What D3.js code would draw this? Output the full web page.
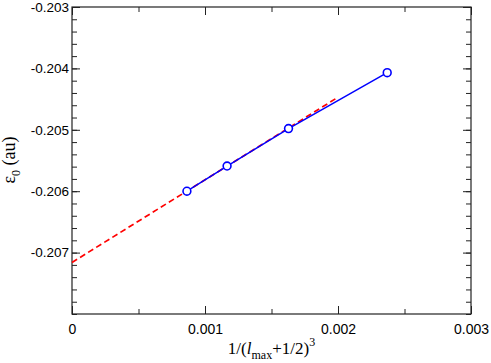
<!DOCTYPE html>
<html>
<head>
<meta charset="utf-8">
<script src="https://cdn.jsdelivr.net/npm/d3@7"></script>
<style>
  body { margin: 0; background: #fff; }
  svg text { fill: #000; }
</style>
</head>
<body>
<div id="chart"></div>
<script>
// data
var lmax = [10, 9, 8, 7];
var xVals = [0.000864, 0.001166, 0.001628, 0.00237];
var eps = [-0.20600, -0.20559, -0.20498, -0.20407];
// linear fit (red dashed)
var fitX = [0, 0.002];
var fitY = [-0.20716, -0.20447];

var xTicks = [0, 0.001, 0.002, 0.003];
var xTickLabels = ["0", "0.001", "0.002", "0.003"];
var yTicks = [-0.203, -0.204, -0.205, -0.206, -0.207];
var yTickLabels = ["-0.203", "-0.204", "-0.205", "-0.206", "-0.207"];

var W = 491, H = 363;
var margin = {top: 7, right: 20, bottom: 49, left: 72},
    width = W - margin.left - margin.right,
    height = H - margin.top - margin.bottom;

var svg = d3.select("#chart").append("svg")
    .attr("width", W)
    .attr("height", H);

var g = svg.append("g")
    .attr("transform", "translate(" + margin.left + "," + margin.top + ")");

var x = d3.scaleLinear().domain([0, 0.003]).range([0, width]);
var y = d3.scaleLinear().domain([-0.208, -0.203]).range([height, 0]);

var axisColor = "#222";
var font = "'Liberation Sans', Arial, Helvetica, sans-serif";

// minor ticks
var xMinor = d3.range(0, 0.0030001, 0.0005);
var yMinor = d3.range(0, 26).map(function(i) { return -0.208 + i * 0.0002; });

function drawAxis(axis, major, minor, t) {
    var a = g.append("g").attr("transform", t).call(axis.tickValues(minor).tickSize(-5).tickFormat(""));
    a.select(".domain").remove();
    a.selectAll("line").attr("stroke", axisColor);
    var b = g.append("g").attr("transform", t).call(axis.tickValues(major).tickSize(-8));
    b.select(".domain").remove();
    b.selectAll("line").attr("stroke", axisColor);
    return b;
}

var bx = drawAxis(d3.axisBottom(x), xTicks, xMinor, "translate(0," + height + ")");
bx.selectAll("text")
    .text(function(d, i) { return xTickLabels[i]; })
    .attr("y", 10).attr("dy", "0.71em")
    .style("font-family", font).style("font-size", "14px");

var tx = drawAxis(d3.axisTop(x), xTicks, xMinor, "translate(0,0)");
tx.selectAll("text").remove();

var ly = drawAxis(d3.axisLeft(y), yTicks, yMinor, "translate(0,0)");
ly.selectAll("text")
    .text(function(d, i) { return yTickLabels[i]; })
    .attr("x", -3)
    .style("font-family", font).style("font-size", "13.5px");

var ry = drawAxis(d3.axisRight(y), yTicks, yMinor, "translate(" + width + ",0)");
ry.selectAll("text").remove();

// frame
g.append("rect")
    .attr("width", width).attr("height", height)
    .attr("fill", "none").attr("stroke", axisColor).attr("stroke-width", 1.2);

// fit line
var fitPts = fitX.map(function(d, i) { return [d, fitY[i]]; });
g.append("path")
    .datum(fitPts)
    .attr("d", d3.line().x(function(d) { return x(d[0]); }).y(function(d) { return y(d[1]); }))
    .attr("fill", "none").attr("stroke", "#ff0000")
    .attr("stroke-width", 1.7).attr("stroke-dasharray", "6,3.5");

// data line
var pts = xVals.map(function(d, i) { return {x: d, y: eps[i], l: lmax[i]}; });
g.append("path")
    .datum(pts)
    .attr("d", d3.line().x(function(d) { return x(d.x); }).y(function(d) { return y(d.y); }))
    .attr("fill", "none").attr("stroke", "#0000ff").attr("stroke-width", 1.5);

g.selectAll("circle.pt")
    .data(pts)
    .enter().append("circle")
    .attr("class", "pt")
    .attr("cx", function(d) { return x(d.x); })
    .attr("cy", function(d) { return y(d.y); })
    .attr("r", 3.9)
    .attr("fill", "#fff").attr("stroke", "#0000ff").attr("stroke-width", 1.6);

// axis titles
var serif = "'Liberation Serif', 'Times New Roman', Times, serif";
var xt = svg.append("text")
    .attr("x", margin.left + width / 2)
    .attr("y", 354)
    .attr("text-anchor", "middle")
    .style("font-family", serif).style("font-size", "17px");
xt.append("tspan").text("1/(");
xt.append("tspan").text("l").style("font-style", "italic");
xt.append("tspan").text("max").attr("dy", 5).style("font-size", "12px");
xt.append("tspan").text("+1/2)").attr("dy", -5);
xt.append("tspan").text("3").attr("dy", -8).style("font-size", "12px");

var yt = svg.append("text")
    .attr("transform", "translate(15," + 160 + ") rotate(-90)")
    .attr("text-anchor", "middle")
    .style("font-family", serif).style("font-size", "18px");
yt.append("tspan").text("\u03b5");
yt.append("tspan").text("0").attr("dy", 5).style("font-size", "12px");
yt.append("tspan").text(" (au)").attr("dy", -5);
</script>
</body>
</html>
